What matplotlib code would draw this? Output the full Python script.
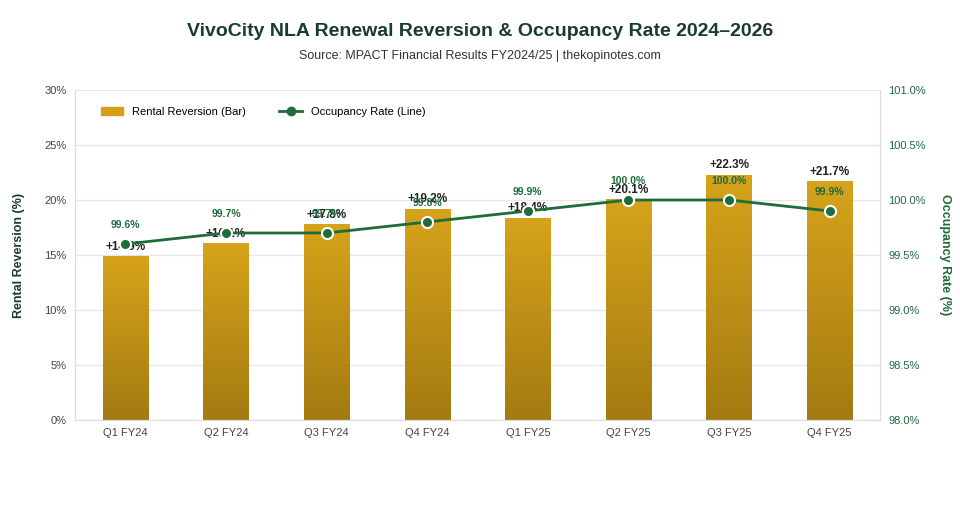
import matplotlib
matplotlib.use("Agg")
import matplotlib.pyplot as plt
import numpy as np
from matplotlib.lines import Line2D
from matplotlib.patches import Patch
from matplotlib.colors import LinearSegmentedColormap

quarters = ["Q1 FY24", "Q2 FY24", "Q3 FY24", "Q4 FY24", "Q1 FY25", "Q2 FY25", "Q3 FY25", "Q4 FY25"]
reversion = [14.9, 16.1, 17.8, 19.2, 18.4, 20.1, 22.3, 21.7]
occupancy = [99.6, 99.7, 99.7, 99.8, 99.9, 100.0, 100.0, 99.9]

plt.rcParams['font.family'] = ['Liberation Sans', 'DejaVu Sans']
fig = plt.figure(figsize=(9.6, 5.2), dpi=100)
ax = fig.add_axes([75/960, 1-420/520, 805/960, 330/520])
ax2 = ax.twinx()
green = "#1e6b3c"
x = np.arange(len(quarters))
w = 0.45
bars = ax.bar(x, reversion, width=w, color="none", zorder=2)
grad = np.linspace(1, 0, 256).reshape(-1, 1)
cmap = LinearSegmentedColormap.from_list("g", ["#a47b12", "#d6a31a"])
for b, v in zip(bars, reversion):
    im = ax.imshow(grad, cmap=cmap, aspect="auto", extent=[b.get_x(), b.get_x()+w, 0, v], zorder=2)
    im.set_clip_path(b)
    ax.text(b.get_x()+w/2, v+0.3, f"+{v:.1f}%", ha="center", va="bottom", fontsize=8.5, fontweight="bold", color="#222222", zorder=5)
ax.set_xlim(-0.5, len(x)-0.5)
ax.set_ylim(0, 30)
ax.set_yticks(range(0, 31, 5))
ax.set_yticklabels([f"{t}%" for t in range(0, 31, 5)])
ax.set_xticks(x)
ax.set_xticklabels(quarters)
ax.grid(axis="y", color="#e6e6e6", lw=1, zorder=0)
ax.set_axisbelow(True)
ax2.plot(x, occupancy, color=green, lw=2, marker="o", ms=8, mfc=green, mec="white", mew=1.5, zorder=4)
for xi, v in zip(x, occupancy):
    ax2.text(xi, v+0.13, f"{v:.1f}%", ha="center", va="bottom", fontsize=7.5, fontweight="bold", color=green, zorder=5)
ax2.set_ylim(98, 101)
ax2.set_yticks(np.arange(98, 101.01, 0.5))
ax2.set_yticklabels([f"{t:.1f}%" for t in np.arange(98, 101.01, 0.5)])
for a in (ax, ax2):
    for s in a.spines.values():
        s.set_color("#dddddd")
    a.tick_params(colors="#444444", labelsize=8, length=0, pad=6)
ax2.tick_params(axis="y", colors=green)
ax2.spines["top"].set_visible(False); ax.spines["top"].set_visible(False)
ax.set_ylabel("Rental Reversion (%)", fontsize=9, fontweight="bold", color="#1a3d2b", labelpad=14)
ax2.set_ylabel("Occupancy Rate (%)", fontsize=9, fontweight="bold", color=green, rotation=270, labelpad=18)
fig.text(0.5, 1-32/520, "VivoCity NLA Renewal Reversion & Occupancy Rate 2024–2026", ha="center", va="center", fontsize=14, fontweight="bold", color="#1a3d2b")
fig.text(0.5, 1-56/520, "Source: MPACT Financial Results FY2024/25 | thekopinotes.com", ha="center", va="center", fontsize=9, color="#333333")
handles = [Patch(color="#d4a017", label="Rental Reversion (Bar)"),
           Line2D([], [], color=green, lw=2, marker="o", ms=6, label="Occupancy Rate (Line)")]
ax2.legend(handles=handles, loc="upper left", bbox_to_anchor=(0.02, 0.98), ncol=2, frameon=False, fontsize=8, columnspacing=3, handlelength=2)
fig.savefig("out.png", dpi=100, facecolor="white")
